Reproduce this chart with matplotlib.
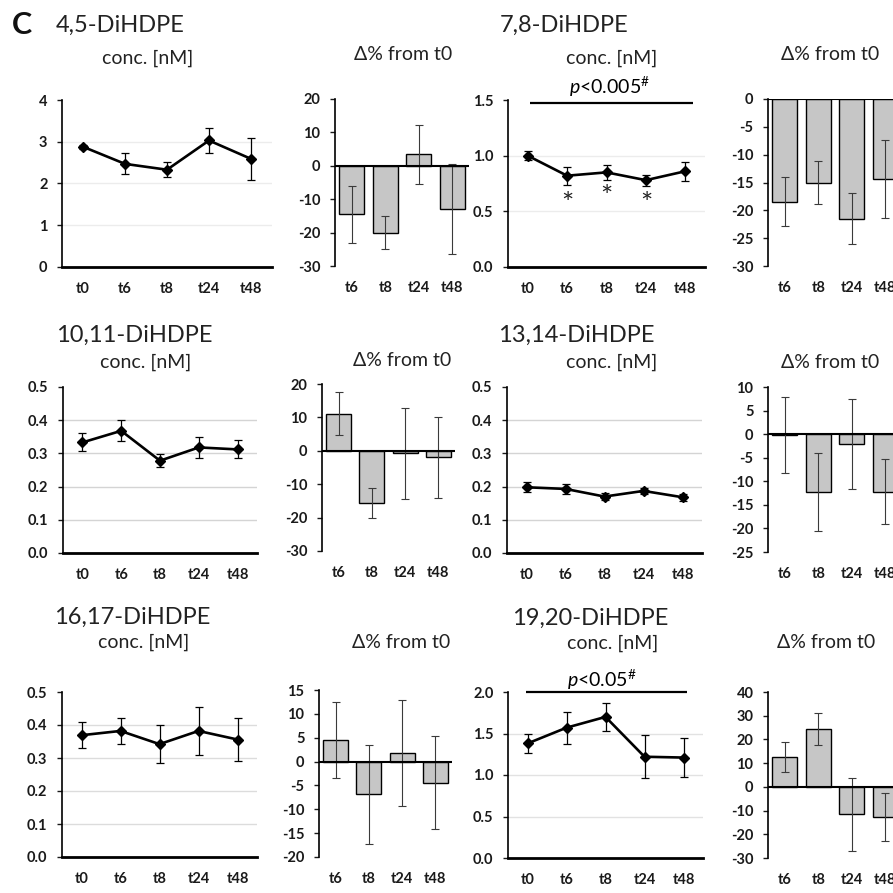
import numpy as np
import matplotlib.pyplot as plt

plt.rcParams['font.family'] = ['Lato', 'DejaVu Sans']
plt.rcParams['axes.unicode_minus'] = False
plt.rcParams['mathtext.fontset'] = 'custom'
plt.rcParams['mathtext.rm'] = 'Lato'
plt.rcParams['mathtext.it'] = 'Lato:italic'

# data
times = ['t0', 't6', 't8', 't24', 't48']
dtimes = ['t6', 't8', 't24', 't48']

names = ['4,5-DiHDPE', '7,8-DiHDPE', '10,11-DiHDPE',
         '13,14-DiHDPE', '16,17-DiHDPE', '19,20-DiHDPE']

conc_45 = [2.88, 2.47, 2.33, 3.03, 2.59]
conc_45_err = [0.05, 0.25, 0.18, 0.31, 0.5]
delta_45 = [-14.5, -20.0, 3.5, -13.0]
delta_45_err = [8.5, 5.0, 8.8, 13.5]

conc_78 = [1.0, 0.82, 0.85, 0.78, 0.86]
conc_78_err = [0.04, 0.08, 0.07, 0.05, 0.085]
delta_78 = [-18.5, -15.0, -21.5, -14.3]
delta_78_err = [4.4, 3.8, 4.6, 7.0]

conc_1011 = [0.333, 0.368, 0.278, 0.318, 0.312]
conc_1011_err = [0.027, 0.032, 0.02, 0.032, 0.027]
delta_1011 = [11.1, -15.5, -0.8, -2.0]
delta_1011_err = [6.5, 4.5, 13.5, 12.0]

conc_1314 = [0.198, 0.193, 0.17, 0.187, 0.168]
conc_1314_err = [0.015, 0.015, 0.01, 0.01, 0.01]
delta_1314 = [-0.2, -12.2, -2.1, -12.2]
delta_1314_err = [8.0, 8.3, 9.6, 6.9]

conc_1617 = [0.369, 0.382, 0.342, 0.382, 0.356]
conc_1617_err = [0.04, 0.039, 0.057, 0.073, 0.065]
delta_1617 = [4.5, -6.9, 1.8, -4.4]
delta_1617_err = [7.9, 10.4, 11.2, 9.8]

conc_1920 = [1.38, 1.57, 1.70, 1.22, 1.21]
conc_1920_err = [0.116, 0.195, 0.165, 0.26, 0.23]
delta_1920 = [12.5, 24.4, -11.5, -12.7]
delta_1920_err = [6.4, 6.6, 15.4, 10.0]

W = H = 893
fig = plt.figure(figsize=(8.93, 8.93), dpi=100)
fig.patch.set_facecolor('white')


def px_axes(l, r, t, b):
    return fig.add_axes([l / W, 1 - b / H, (r - l) / W, (b - t) / H])


def ftext(x, y, s, **kw):
    fig.text(x / W, 1 - y / H, s, ha='center', va='center', **kw)


def style_ticks(ax):
    ax.tick_params(axis='x', length=0, pad=11, labelsize=10.5, colors='#1a1a1a')
    ax.tick_params(axis='y', length=3.5, width=1, pad=7, labelsize=10.5, colors='#1a1a1a')
    for lbl in ax.get_xticklabels() + ax.get_yticklabels():
        lbl.set_fontweight('bold')
    for s in ['top', 'right']:
        ax.spines[s].set_visible(False)
    ax.spines['left'].set_linewidth(1.2)
    ax.set_facecolor('none')


def conc_panel(ax, vals, errs, ylim, step, fmt, grid):
    x = np.arange(len(times))
    ax.errorbar(x, vals, yerr=errs, color='black', lw=1.9, marker='D', ms=5.5,
                elinewidth=0.9, capsize=3, capthick=0.9, zorder=3)
    ax.set_xlim(-0.5, len(times) - 0.5)
    ax.set_ylim(ylim)
    ticks = np.arange(ylim[0], ylim[1] + step / 2, step)
    ax.set_yticks(ticks)
    ax.set_yticklabels([fmt.format(v) for v in ticks])
    for v in ticks[1:-1]:
        ax.axhline(v, color=grid, lw=1, zorder=0)
    ax.set_xticks(x)
    ax.set_xticklabels(times)
    style_ticks(ax)
    ax.spines['bottom'].set_linewidth(2)


def delta_panel(ax, vals, errs, ylim, step):
    x = np.arange(len(dtimes))
    ax.bar(x, vals, width=0.75, color='#c6c6c6', edgecolor='black', lw=1, zorder=2)
    ax.errorbar(x, vals, yerr=errs, fmt='none', ecolor='#3a3a3a',
                elinewidth=0.8, capsize=3, capthick=0.8, zorder=3)
    ax.axhline(0, color='black', lw=1.5, zorder=4)
    ax.set_xlim(-0.5, len(dtimes) - 0.5)
    ax.set_ylim(ylim)
    ticks = np.arange(ylim[0], ylim[1] + step / 2, step)
    ax.set_yticks(ticks)
    ax.set_yticklabels(['{:g}'.format(v) for v in ticks])
    ax.set_xticks(x)
    ax.set_xticklabels(dtimes)
    style_ticks(ax)
    ax.spines['bottom'].set_visible(False)


# row 1
ax1 = px_axes(62, 272, 100, 267)
conc_panel(ax1, conc_45, conc_45_err, (0, 4), 1, '{:.0f}', '#ececec')
ax2 = px_axes(335, 469, 99, 266)
delta_panel(ax2, delta_45, delta_45_err, (-30, 20), 10)
ax3 = px_axes(508, 705, 100, 267)
conc_panel(ax3, conc_78, conc_78_err, (0, 1.5), 0.5, '{:.1f}', '#ececec')
ax3.hlines(1.47, 0.06, 4.2, color='black', lw=1.6, clip_on=False)
ax3.text(2.09, 1.62, r'$\mathit{p}$<0.005$^{\#}$', ha='center', va='center', fontsize=14)
for xi in [1, 3]:
    ax3.text(xi, 0.56, '*', ha='center', va='center', fontsize=21, color='#222222')
ax3.text(2, 0.62, '*', ha='center', va='center', fontsize=21, color='#222222')
ax4 = px_axes(768, 902, 99, 266)
delta_panel(ax4, delta_78, delta_78_err, (-30, 0), 5)

# row 2
ax5 = px_axes(63, 257, 387, 553)
conc_panel(ax5, conc_1011, conc_1011_err, (0, 0.5), 0.1, '{:.1f}', '#d4d4d4')
ax6 = px_axes(322, 455, 384, 551)
delta_panel(ax6, delta_1011, delta_1011_err, (-30, 20), 10)
ax7 = px_axes(507, 702, 387, 553)
conc_panel(ax7, conc_1314, conc_1314_err, (0, 0.5), 0.1, '{:.1f}', '#d4d4d4')
ax8 = px_axes(768, 902, 387, 552)
delta_panel(ax8, delta_1314, delta_1314_err, (-25, 10), 5)

# row 3
ax9 = px_axes(62, 257, 692, 857)
conc_panel(ax9, conc_1617, conc_1617_err, (0, 0.5), 0.1, '{:.1f}', '#dcdcdc')
ax10 = px_axes(319, 452, 690, 857)
delta_panel(ax10, delta_1617, delta_1617_err, (-20, 15), 5)
ax11 = px_axes(508, 703, 692, 858)
conc_panel(ax11, conc_1920, conc_1920_err, (0, 2.0), 0.5, '{:.1f}', '#e2e2e2')
ax11.hlines(2.0, -0.04, 4.09, color='black', lw=1.6, clip_on=False)
ax11.text(1.91, 2.14, r'$\mathit{p}$<0.05$^{\#}$', ha='center', va='center', fontsize=14)
ax12 = px_axes(768, 902, 692, 858)
delta_panel(ax12, delta_1920, delta_1920_err, (-30, 40), 10)

# titles
tkw = dict(fontsize=17, color='#222222')
ckw = dict(fontsize=14, color='#222222')
ftext(22, 25, 'C', fontsize=22, fontweight='bold', color='#111111')
ftext(120, 25, names[0], **tkw)
ftext(148, 58, 'conc. [nM]', **ckw)
ftext(403, 55, 'Δ% from t0', **ckw)
ftext(564, 25, names[1], **tkw)
ftext(612, 58, 'conc. [nM]', **ckw)
ftext(830, 55, 'Δ% from t0', **ckw)

ftext(134, 335, names[2], **tkw)
ftext(146, 362, 'conc. [nM]', **ckw)
ftext(402, 360, 'Δ% from t0', **ckw)
ftext(576, 335, names[3], **tkw)
ftext(612, 362, 'conc. [nM]', **ckw)
ftext(830, 362, 'Δ% from t0', **ckw)

ftext(132, 617, names[4], **tkw)
ftext(144, 642, 'conc. [nM]', **ckw)
ftext(401, 642, 'Δ% from t0', **ckw)
ftext(590, 618, names[5], **tkw)
ftext(613, 643, 'conc. [nM]', **ckw)
ftext(826, 643, 'Δ% from t0', **ckw)

fig.savefig('out.png', dpi=100)
